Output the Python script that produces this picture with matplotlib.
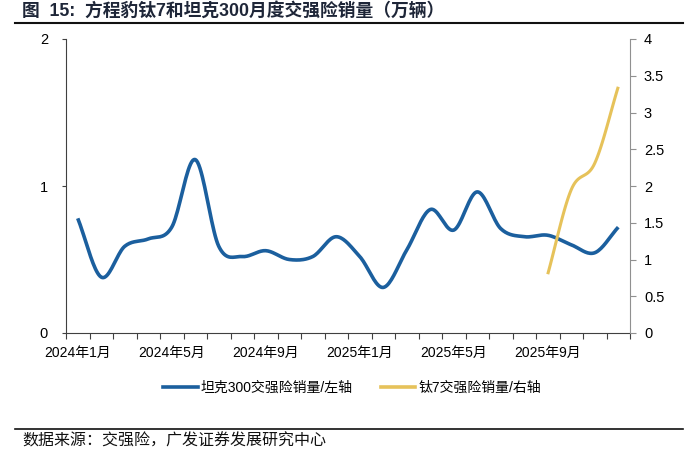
import numpy as np
import matplotlib
matplotlib.use("Agg")
import matplotlib.pyplot as plt
from matplotlib.lines import Line2D

plt.rcParams['font.family'] = ['Liberation Sans', 'Noto Sans CJK SC', 'DejaVu Sans']

months = ["2024年1月", "2024年2月", "2024年3月", "2024年4月", "2024年5月", "2024年6月",
          "2024年7月", "2024年8月", "2024年9月", "2024年10月", "2024年11月", "2024年12月",
          "2025年1月", "2025年2月", "2025年3月", "2025年4月", "2025年5月", "2025年6月",
          "2025年7月", "2025年8月", "2025年9月", "2025年10月", "2025年11月", "2025年12月"]
tank300 = [0.78, 0.38, 0.59, 0.64, 0.72, 1.18, 0.59, 0.52, 0.56, 0.50, 0.52, 0.655,
           0.52, 0.31, 0.565, 0.84, 0.70, 0.96, 0.71, 0.655, 0.665, 0.60, 0.546, 0.72]
ti7_months = ["2025年9月", "2025年10月", "2025年11月", "2025年12月"]
ti7 = [0.80, 1.95, 2.31, 3.35]

tick_label_idx = [0, 4, 8, 12, 16, 20]

title = "图  15:  方程豹钛7和坦克300月度交强险销量（万辆）"
source = "数据来源：交强险，广发证券发展研究中心"
label_tank = "坦克300交强险销量/左轴"
label_ti7 = "钛7交强险销量/右轴"

BLUE = "#1b5f9e"
YELLOW = "#e6c25a"


def smooth(x, y, n=20):
    x = np.asarray(x, float)
    y = np.asarray(y, float)
    if len(x) < 3:
        return x, y
    px = np.concatenate([[2 * x[0] - x[1]], x, [2 * x[-1] - x[-2]]])
    py = np.concatenate([[2 * y[0] - y[1]], y, [2 * y[-1] - y[-2]]])
    xs, ys = [], []
    for i in range(1, len(px) - 2):
        t = np.linspace(0, 1, n, endpoint=(i == len(px) - 3))
        for arr, out in ((px, xs), (py, ys)):
            p0, p1, p2, p3 = arr[i - 1], arr[i], arr[i + 1], arr[i + 2]
            out.append(0.5 * ((2 * p1) + (-p0 + p2) * t +
                              (2 * p0 - 5 * p1 + 4 * p2 - p3) * t ** 2 +
                              (-p0 + 3 * p1 - 3 * p2 + p3) * t ** 3))
    return np.concatenate(xs), np.concatenate(ys)


fig = plt.figure(figsize=(7, 4.71), dpi=100)
ax = fig.add_axes([66 / 700, 1 - 333 / 471, (630 - 66) / 700, (333 - 39) / 471])
ax2 = ax.twinx()

x_all = np.arange(len(months))
sx, sy = smooth(x_all, tank300)
ax.plot(sx, sy, color=BLUE, lw=2.6, solid_capstyle='butt')

x_ti = np.array([months.index(m) for m in ti7_months])
tx, ty = smooth(x_ti, ti7)
ax2.plot(tx, ty, color=YELLOW, lw=2.2, solid_capstyle='butt')

ax.set_xlim(-0.5, len(months) - 0.5)
ax.set_ylim(0, 2)
ax2.set_ylim(0, 4)

ax.set_yticks([0, 1, 2])
ax.set_yticklabels(["0", "1", "2"])
ax2.set_yticks(np.arange(0, 4.01, 0.5))
ax2.set_yticklabels(["0", "0.5", "1", "1.5", "2", "2.5", "3", "3.5", "4"])

ax.set_xticks(np.arange(-0.5, len(months), 1.0))
ax.set_xticklabels([])
ax.set_xticks(tick_label_idx, minor=True)
ax.set_xticklabels([months[i] for i in tick_label_idx], minor=True)
ax.tick_params(axis='x', which='major', length=4, width=0.8, color='#404040', direction='out')
ax.tick_params(axis='x', which='minor', length=0, labelsize=10, pad=9, labelcolor='#000000')
ax.tick_params(axis='y', length=3, width=0.8, color='#404040', labelsize=10.5, pad=10)
ax2.tick_params(axis='y', length=4, width=0.8, color='#909090', labelsize=10.5, pad=6)

for s in ['top', 'right']:
    ax.spines[s].set_visible(False)
ax.spines['left'].set_color('#404040')
ax.spines['bottom'].set_color('#404040')
for s in ['top', 'left', 'bottom']:
    ax2.spines[s].set_visible(False)
ax2.spines['right'].set_color('#909090')

fig.text(22 / 700, 1 - 11 / 471, title, fontsize=12.8, fontweight='bold',
         color='#1e2638', va='center', ha='left')
fig.add_artist(Line2D([15 / 700, 683 / 700], [1 - 23 / 471, 1 - 23 / 471],
                      color='#111111', lw=1.5))
fig.add_artist(Line2D([15 / 700, 683 / 700], [1 - 429 / 471, 1 - 429 / 471],
                      color='#111111', lw=1.2))
fig.text(22 / 700, 1 - 441 / 471, source, fontsize=11.5, color='#111111',
         va='center', ha='left')

handles = [Line2D([], [], color=BLUE, lw=2.6), Line2D([], [], color=YELLOW, lw=2.6)]
fig.legend(handles, [label_tank, label_ti7], loc='center', bbox_to_anchor=(352 / 700, 1 - 388 / 471),
           ncol=2, frameon=False, fontsize=10, handlelength=2.5, handletextpad=0.2,
           columnspacing=2.0)

fig.savefig("out.png", dpi=100)
